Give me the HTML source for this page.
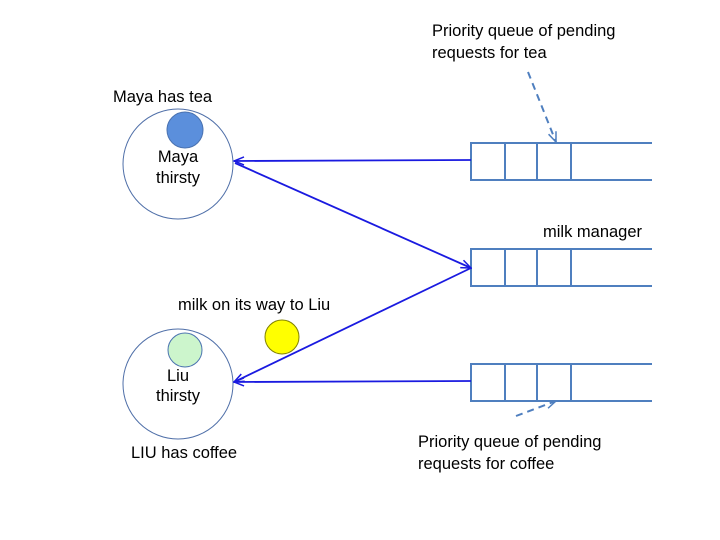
<!DOCTYPE html>
<html><head><meta charset="utf-8"><style>
html,body{margin:0;padding:0;background:#fff;}
svg{display:block;}
text{font-family:"Liberation Sans",sans-serif;font-size:16.5px;fill:#000;}
</style></head><body>
<svg width="720" height="540" viewBox="0 0 720 540" xmlns="http://www.w3.org/2000/svg">
<defs>
<marker id="a" markerWidth="12" markerHeight="10" refX="11" refY="5" orient="auto" markerUnits="userSpaceOnUse">
<path d="M1,1 L11,5 L1,9" fill="none" stroke="#1a1ae0" stroke-width="1.5"/>
</marker>
<marker id="d" markerWidth="12" markerHeight="10" refX="11" refY="5" orient="auto" markerUnits="userSpaceOnUse">
<path d="M1,1 L11,5 L1,9" fill="none" stroke="#4f7fbf" stroke-width="1.5"/>
</marker>
</defs>
<circle cx="178" cy="164" r="55" fill="#fff" stroke="#4f6fa8" stroke-width="1"/>
<circle cx="178" cy="384" r="55" fill="#fff" stroke="#4f6fa8" stroke-width="1"/>
<circle cx="185" cy="130" r="18" fill="#5b8fdc" stroke="#4a72b0"/>
<circle cx="185" cy="350" r="17" fill="#ccf5cc" stroke="#4a72b0"/>
<circle cx="282" cy="337" r="17" fill="#ffff00" stroke="#808000"/>
<text x="113" y="102">Maya has tea</text>
<text x="178" y="162" text-anchor="middle">Maya</text>
<text x="178" y="183" text-anchor="middle">thirsty</text>
<text x="178" y="381" text-anchor="middle">Liu</text>
<text x="178" y="401" text-anchor="middle">thirsty</text>
<text x="131" y="458">LIU has coffee</text>
<text x="178" y="310">milk on its way to Liu</text>
<text x="543" y="237">milk manager</text>
<text x="432" y="36">Priority queue of pending</text>
<text x="432" y="58">requests for tea</text>
<text x="418" y="447">Priority queue of pending</text>
<text x="418" y="469">requests for coffee</text>
<g fill="none" stroke="#4f7fbf" stroke-width="2">
<path d="M652,143 H471 V180 H652 M505,143 V180 M537,143 V180 M571,143 V180"/>
<path d="M652,249 H471 V286 H652 M505,249 V286 M537,249 V286 M571,249 V286"/>
<path d="M652,364 H471 V401 H652 M505,364 V401 M537,364 V401 M571,364 V401"/>
</g>
<g stroke="#1a1ae0" stroke-width="1.8" fill="none">
<line x1="471" y1="160" x2="234" y2="161" marker-end="url(#a)"/>
<line x1="235" y1="163" x2="471" y2="268" marker-end="url(#a)"/>
<line x1="471" y1="268" x2="234" y2="382" marker-end="url(#a)"/>
<line x1="471" y1="381" x2="234" y2="382" marker-end="url(#a)"/>
</g>
<g stroke="#4f7fbf" stroke-width="2" fill="none" stroke-dasharray="7,5">
<line x1="528" y1="72" x2="556" y2="142" marker-end="url(#d)"/>
<line x1="516" y1="416" x2="556" y2="401" marker-end="url(#d)"/>
</g>
</svg>
</body></html>
